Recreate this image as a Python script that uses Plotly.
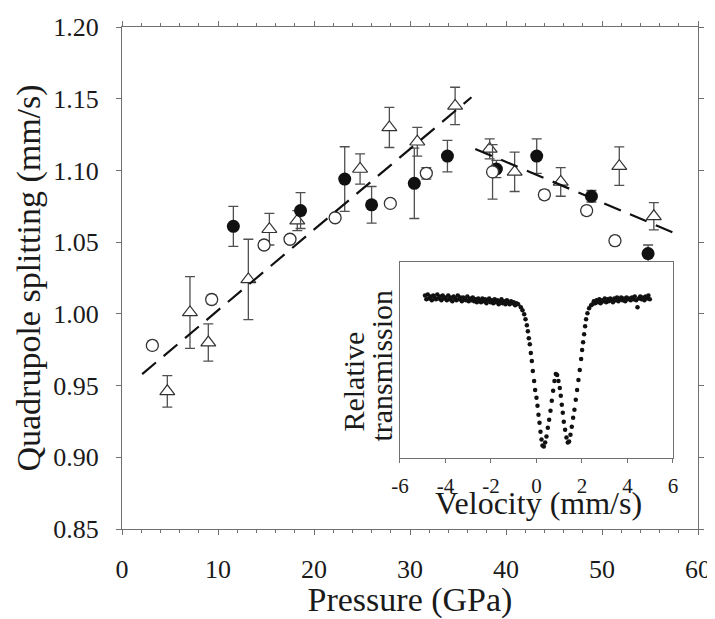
import plotly.graph_objects as go

# ---------------- main panel data ----------------
filled_p = [11.6, 18.6, 23.2, 26.0, 30.45, 33.9, 39.0, 43.2, 48.9, 54.8]
filled_q = [1.061, 1.072, 1.094, 1.076, 1.091, 1.110, 1.101, 1.110, 1.082, 1.042]
filled_err = [0.014, 0.0125, 0.0225, 0.0128, 0.0245, 0.011, 0.006, 0.012, 0.004, 0.006]

open_p = [3.16, 9.34, 14.8, 17.5, 22.2, 27.95, 31.7, 38.6, 44.0, 48.4, 51.35]
open_q = [0.978, 1.010, 1.048, 1.052, 1.067, 1.077, 1.098, 1.099, 1.083, 1.072, 1.051]
open_err = [0.003, 0.003, 0.003, 0.0, 0.002, 0.0, 0.004, 0.019, 0.003, 0.003, 0.003]

tri_p = [4.72, 7.08, 8.99, 13.16, 15.35, 18.26, 24.8, 27.85, 30.76, 34.7, 38.3, 40.9, 45.7, 51.8, 55.4]
tri_q = [0.946, 1.001, 0.980, 1.024, 1.059, 1.065, 1.101, 1.130, 1.120, 1.145, 1.115, 1.099, 1.092, 1.103, 1.068]
tri_err = [0.011, 0.025, 0.013, 0.028, 0.011, 0.007, 0.0105, 0.014, 0.010, 0.013, 0.007, 0.0137, 0.010, 0.0134, 0.0095]

fit1_p = [2.1, 36.4]
fit1_q = [0.958, 1.151]
fit2_p = [36.8, 58.0]
fit2_q = [1.115, 1.055]

x_ticks = [0, 10, 20, 30, 40, 50, 60]
y_ticks = [0.85, 0.90, 0.95, 1.00, 1.05, 1.10, 1.15, 1.20]

# ---------------- inset (Mossbauer spectrum) data ----------------
inset_v_left = [-4.90, -4.84, -4.78, -4.72, -4.66, -4.60, -4.54, -4.48, -4.42, -4.36,
                -4.30, -4.24, -4.18, -4.12, -4.06, -4.00, -3.94, -3.88, -3.82, -3.76,
                -3.70, -3.64, -3.58, -3.52, -3.46, -3.40, -3.34, -3.28, -3.22, -3.16,
                -3.10, -3.04, -2.98, -2.92, -2.86, -2.80, -2.74, -2.68, -2.62, -2.56,
                -2.50, -2.44, -2.38, -2.32, -2.26, -2.20, -2.14, -2.08, -2.02, -1.96,
                -1.90, -1.84, -1.78, -1.72, -1.66, -1.60, -1.54, -1.48, -1.42, -1.36,
                -1.30, -1.24, -1.18, -1.12, -1.06, -1.00, -0.94, -0.88]
inset_t_left = [1.002, 0.998, 1.003, 0.999, 1.001, 0.997, 1.002, 1.000, 0.998, 1.003,
                0.999, 1.001, 0.997, 1.002, 0.999, 1.000, 0.997, 1.002, 0.998, 1.000,
                0.996, 1.001, 0.999, 0.997, 1.002, 0.998, 1.000, 0.996, 1.000, 0.998,
                0.997, 1.001, 0.996, 0.999, 0.997, 1.000, 0.996, 0.998, 0.995, 0.999,
                0.997, 0.995, 0.999, 0.996, 0.998, 0.994, 0.997, 0.999, 0.995, 0.997,
                0.994, 0.998, 0.995, 0.997, 0.993, 0.996, 0.998, 0.994, 0.996, 0.993,
                0.997, 0.995, 0.993, 0.996, 0.994, 0.995, 0.992, 0.994]

inset_v_dip = [-0.805, -0.688, -0.615, -0.541, -0.483, -0.424, -0.380, -0.337, -0.293, -0.249,
               -0.205, -0.161, -0.103, -0.059, 0.000, 0.044, 0.088, 0.132, 0.176, 0.220,
               0.263, 0.322, 0.380, 0.439, 0.498, 0.556, 0.615, 0.673, 0.732, 0.790,
               0.849, 0.907, 0.966, 1.024, 1.068, 1.112, 1.156, 1.200, 1.258, 1.317,
               1.376, 1.434, 1.493, 1.551, 1.610, 1.668, 1.727, 1.785, 1.844, 1.902,
               1.961, 2.005, 2.049, 2.093, 2.137, 2.180, 2.239, 2.312, 2.400]
inset_t_dip = [0.993, 0.990, 0.987, 0.983, 0.978, 0.972, 0.966, 0.959, 0.953, 0.944,
               0.936, 0.926, 0.916, 0.907, 0.899, 0.891, 0.882, 0.874, 0.865, 0.857,
               0.851, 0.850, 0.854, 0.860, 0.869, 0.877, 0.886, 0.896, 0.906, 0.916,
               0.923, 0.922, 0.916, 0.909, 0.901, 0.892, 0.884, 0.875, 0.867, 0.859,
               0.854, 0.855, 0.862, 0.870, 0.879, 0.887, 0.897, 0.907, 0.917, 0.927,
               0.938, 0.947, 0.955, 0.963, 0.971, 0.978, 0.984, 0.989, 0.992]

inset_v_right = [2.46, 2.52, 2.58, 2.64, 2.70, 2.76, 2.82, 2.88, 2.94, 3.00,
                 3.06, 3.12, 3.18, 3.24, 3.30, 3.36, 3.42, 3.48, 3.54, 3.60,
                 3.66, 3.72, 3.78, 3.84, 3.90, 3.96, 4.02, 4.08, 4.14, 4.20,
                 4.26, 4.32, 4.38, 4.44, 4.50, 4.56, 4.62, 4.68, 4.74, 4.80,
                 4.86, 4.92, 4.98]
inset_t_right = [0.993, 0.996, 0.994, 0.997, 0.995, 0.998, 0.994, 0.997, 0.996, 0.999,
                 0.995, 0.998, 0.996, 0.999, 0.997, 0.995, 0.999, 0.997, 1.000, 0.996,
                 0.998, 1.000, 0.997, 0.999, 0.996, 1.000, 0.998, 0.999, 0.997, 1.000,
                 0.998, 1.001, 0.997, 0.990, 0.999, 1.001, 0.998, 1.000, 0.997, 1.001,
                 0.999, 1.002, 0.998]

inset_ticks = [-6, -4, -2, 0, 2, 4, 6]
inset_ticklabels = ["-6", "-4", "-2", "0", "2", "4", "6"]

# ---------------- styling ----------------
FONT = '"Liberation Serif", "Times New Roman", Times, "DejaVu Serif", serif'
TXT = "#1a1a1a"
AX = "#707070"
MK = "#111111"
ERR = dict(type="data", visible=True, color="#505050", thickness=1.3, width=5)

fig = go.Figure()

fig.add_trace(go.Scatter(
    x=tri_p, y=tri_q, mode="markers", showlegend=False,
    marker=dict(symbol="triangle-up", size=13, color="white", line=dict(color="#333333", width=1.2)),
    error_y=dict(array=tri_err, **ERR)))
fig.add_trace(go.Scatter(
    x=filled_p, y=filled_q, mode="markers", showlegend=False,
    marker=dict(symbol="circle", size=13, color=MK, line=dict(color=MK, width=0)),
    error_y=dict(array=filled_err, **ERR)))
fig.add_trace(go.Scatter(
    x=open_p, y=open_q, mode="markers", showlegend=False,
    marker=dict(symbol="circle", size=12, color="white", line=dict(color="#333333", width=1.3)),
    error_y=dict(array=open_err, **ERR)))
for fp, fq in ((fit1_p, fit1_q), (fit2_p, fit2_q)):
    fig.add_trace(go.Scatter(
        x=fp, y=fq, mode="lines", showlegend=False,
        line=dict(color=MK, width=2.2, dash="18px,10px")))

# inset spectrum
for vv, tt in ((inset_v_left, inset_t_left), (inset_v_dip, inset_t_dip), (inset_v_right, inset_t_right)):
    fig.add_trace(go.Scatter(
        x=vv, y=tt, mode="markers", showlegend=False, xaxis="x2", yaxis="y2",
        marker=dict(symbol="circle", size=4.5, color=MK)))

# The page body adds an 8px margin, so the figure is drawn 8px smaller
# and every position is offset to land where the reference has it.
fig.update_layout(
    template="none",
    width=707, height=611,
    margin=dict(l=114, r=17, t=19.3, b=89.5, autoexpand=False),
    paper_bgcolor="white", plot_bgcolor="white",
    font=dict(family=FONT, color=TXT),
    xaxis=dict(
        domain=[0, 1], range=[0, 60], tickvals=x_ticks, automargin=False,
        ticks="outside", ticklen=5, tickwidth=1.2, tickcolor=AX,
        minor=dict(dtick=2, ticks="outside", ticklen=3, tickcolor=AX, tickwidth=1),
        showline=True, linecolor=AX, linewidth=1.3, mirror="ticks",
        showgrid=False, zeroline=False,
        tickfont=dict(family=FONT, size=26, color=TXT), ticklabelstandoff=12,
        title=dict(text="Pressure (GPa)", font=dict(family=FONT, size=34, color=TXT), standoff=4),
    ),
    yaxis=dict(
        domain=[0, 1], range=[0.85, 1.20], tickvals=y_ticks, tickformat=".2f", automargin=False,
        ticks="outside", ticklen=5, tickwidth=1.2, tickcolor=AX,
        showline=True, linecolor=AX, linewidth=1.3, mirror="ticks",
        showgrid=False, zeroline=False,
        tickfont=dict(family=FONT, size=26, color=TXT), ticklabelstandoff=12,
        title=dict(text="Quadrupole splitting (mm/s)", font=dict(family=FONT, size=34, color=TXT), standoff=2),
    ),
    xaxis2=dict(
        domain=[0.4826, 0.9566], anchor="y2", range=[-6, 6], automargin=False,
        tickvals=inset_ticks, ticktext=inset_ticklabels,
        ticks="outside", ticklen=4, tickwidth=1.2, tickcolor=AX,
        showline=True, linecolor=AX, linewidth=1.3, mirror=True,
        showgrid=False, zeroline=False,
        tickfont=dict(family=FONT, size=21, color=TXT), ticklabelstandoff=5,
    ),
    yaxis2=dict(
        domain=[0.1424, 0.5327], anchor="x2", range=[0.839, 1.036], automargin=False,
        showticklabels=False, ticks="",
        showline=True, linecolor=AX, linewidth=1.3, mirror=True,
        showgrid=False, zeroline=False,
    ),
)

# inset axis labels (positions given in page pixels, converted to paper fractions)
def px(X):
    return (X - 122) / 576.0

def py(Y):
    return (529.5 - Y) / 502.2

fig.add_annotation(text="Velocity (mm/s)", x=px(538), y=py(503), xref="paper", yref="paper",
                   xanchor="center", yanchor="middle", showarrow=False,
                   font=dict(family=FONT, size=32, color=TXT))
fig.add_annotation(text="Relative", x=px(354), y=py(382), xref="paper", yref="paper",
                   xanchor="center", yanchor="middle", showarrow=False, textangle=-90,
                   font=dict(family=FONT, size=30, color=TXT))
fig.add_annotation(text="transmission", x=px(382), y=py(366), xref="paper", yref="paper",
                   xanchor="center", yanchor="middle", showarrow=False, textangle=-90,
                   font=dict(family=FONT, size=30, color=TXT))

fig.write_html("out.html")
